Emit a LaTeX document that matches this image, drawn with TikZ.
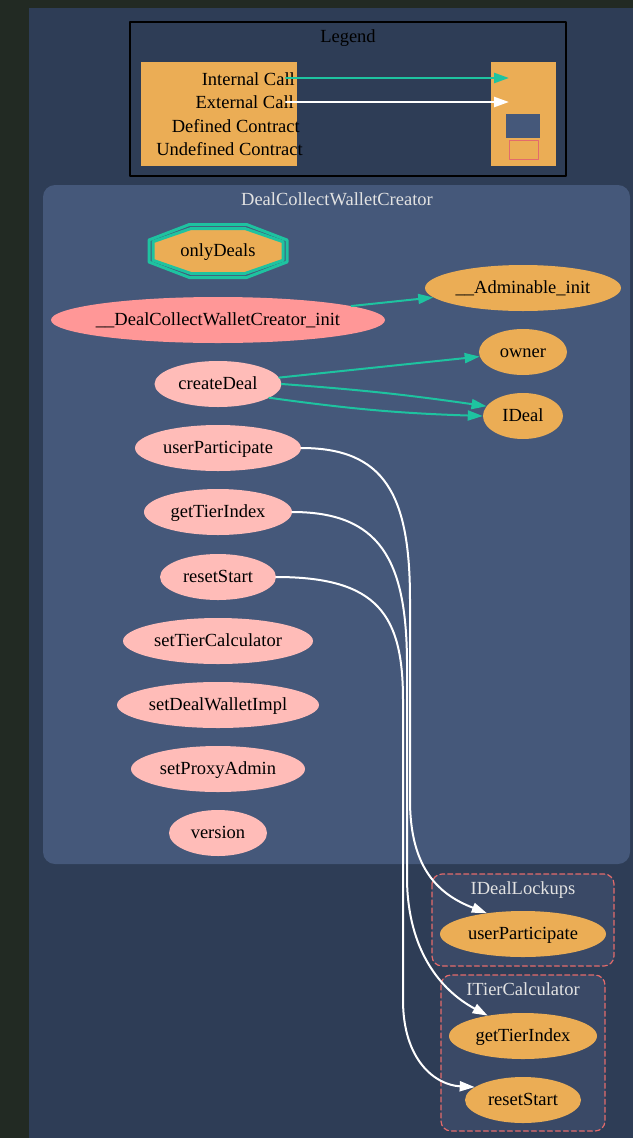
\documentclass[tikz,border=0pt]{standalone}
\usepackage{fontspec}
\setmainfont{Liberation Serif}
\usetikzlibrary{shapes.geometric,arrows.meta}

\definecolor{framedark}{HTML}{222A23}
\definecolor{canvasbg}{HTML}{2E3D56}
\definecolor{clusterbg}{HTML}{45587A}
\definecolor{ifacebg}{HTML}{3A4966}
\definecolor{fnpink}{HTML}{FFBCB8}
\definecolor{initred}{HTML}{FF9797}
\definecolor{extorange}{HTML}{EBAD55}
\definecolor{callteal}{HTML}{1EC3A0}
\definecolor{dashred}{HTML}{E36B6B}
\definecolor{titlegray}{HTML}{E2E2E2}

\newcommand{\dotfont}{\fontsize{18.5pt}{22pt}\selectfont}

\begin{document}
\begin{tikzpicture}[x=1pt, y=-1pt, line cap=round, line join=round,
    >={Triangle[length=15pt, width=10pt]},
    every node/.style={font=\dotfont, inner sep=0pt, text height=13pt, text depth=3pt},
    fn/.style={ellipse, fill=fnpink, minimum height=46pt,
      execute at begin node={\hbox to 0pt\bgroup\hss}, execute at end node={\hss\egroup}},
    extfn/.style={fn, fill=extorange},
    intcall/.style={->, line width=2pt, color=callteal},
    extcall/.style={->, line width=2pt, color=white},
    iface/.style={rounded corners=10pt, fill=ifacebg, draw=dashred, line width=1.2pt, dash pattern=on 5pt off 3pt},
    ctitle/.style={anchor=base, text=titlegray}]
    \useasboundingbox (0,0) rectangle (633,1138);
    \fill[framedark] (0,0) rectangle (633,1138);
    \fill[canvasbg] (29,8) rectangle (633,1138);

    % legend
    \draw[line width=1.3pt, black] (130,22) rectangle (566,176);
    \node[anchor=base] (legtitle) at (348,42) {Legend};
    \fill[extorange] (141,62) rectangle (297,166);
    \fill[extorange] (491,62) rectangle (556,166);
    \fill[clusterbg] (506,114) rectangle (540,138);
    \draw[dashred, line width=0.8pt, fill=extorange] (509,140) rectangle (538,159);
    \node[anchor=base east] (lint) at (295,85) {Internal Call};
    \node[anchor=base east] (lext) at (294,108) {External Call};
    \node[anchor=base east] (ldef) at (300,132) {Defined Contract};
    \node[anchor=base east] (lundef) at (303,155) {Undefined Contract};
    \coordinate (intfrom) at (286,78);
    \coordinate (intto) at (509,78);
    \coordinate (extfrom) at (286,102);
    \coordinate (extto) at (509,102);
    \draw[intcall, line width=2.5pt] (intfrom) -- (intto);
    \draw[extcall, line width=2.5pt] (extfrom) -- (extto);

    % contract cluster
    \fill[clusterbg, rounded corners=12pt] (43,185) rectangle (630,864);
    \node[ctitle] (maintitle) at (337,205) {DealCollectWalletCreator};

    \begin{scope}[shift={(218,251)}]
      \draw[callteal, line width=3pt] (-28.6,-26.5) -- (28.6,-26.5) -- (69,-11) -- (69,11) -- (28.6,26.5) -- (-28.6,26.5) -- (-69,11) -- (-69,-11) -- cycle;
      \draw[callteal, line width=3pt, fill=extorange] (-27,-22.5) -- (27,-22.5) -- (65,-9.3) -- (65,9.3) -- (27,22.5) -- (-27,22.5) -- (-65,9.3) -- (-65,-9.3) -- cycle;
    \end{scope}
    \node (onlydeals) at (218,251) {onlyDeals};

    \node[fn, fill=initred, minimum width=334pt] (dcinit) at (218,320) {\_\_DealCollectWalletCreator\_init};
    \node[extfn, minimum width=196pt] (adminit) at (523,288) {\_\_Adminable\_init};
    \node[extfn, minimum width=88pt] (owner) at (523,352) {owner};
    \node[fn, minimum width=127pt] (createdeal) at (218,384) {createDeal};
    \node[extfn, minimum width=80pt] (ideal) at (523,416) {IDeal};
    \node[fn, minimum width=166pt] (userpart) at (218,448) {userParticipate};
    \node[fn, minimum width=148pt] (gettier) at (218,512) {getTierIndex};
    \node[fn, minimum width=116pt] (resetstart) at (218,577) {resetStart};
    \node[fn, minimum width=190pt] (settier) at (218,641) {setTierCalculator};
    \node[fn, minimum width=202pt] (setwallet) at (218,705) {setDealWalletImpl};
    \node[fn, minimum width=174pt] (setproxy) at (218,769) {setProxyAdmin};
    \node[fn, minimum width=98pt] (version) at (218,833) {version};

    % interfaces
    \draw[iface] (432,874) rectangle (614,966);
    \node[ctitle] (locktitle) at (523,894) {IDealLockups};
    \node[extfn, minimum width=166pt] (lockpart) at (523,934) {userParticipate};
    \draw[iface] (441,975) rectangle (605,1131);
    \node[ctitle] (calctitle) at (523,995) {ITierCalculator};
    \node[extfn, minimum width=148pt] (calctier) at (523,1036) {getTierIndex};
    \node[extfn, minimum width=116pt] (calcreset) at (523,1100) {resetStart};

    % calls
    \draw[intcall] (dcinit) -- (adminit);
    \draw[intcall] (createdeal) -- (owner);
    \draw[intcall] (createdeal.east) to[bend left=2] (ideal.165);
    \draw[intcall] (createdeal.-15) to[bend right=3] (ideal.west);
    \draw[extcall] (userpart.east) .. controls (385,448) and (410,495) .. (410,600) -- (410,800) .. controls (410,870) and (440,895) .. (lockpart.150);
    \draw[extcall] (gettier.east) .. controls (380,512) and (406,560) .. (407,660) -- (407,880) .. controls (408,950) and (440,990) .. (calctier.150);
    \draw[extcall] (resetstart.east) .. controls (378,577) and (403,615) .. (403,700) -- (403,1000) .. controls (403,1060) and (435,1085) .. (calcreset.165);
\end{tikzpicture}
\end{document}
